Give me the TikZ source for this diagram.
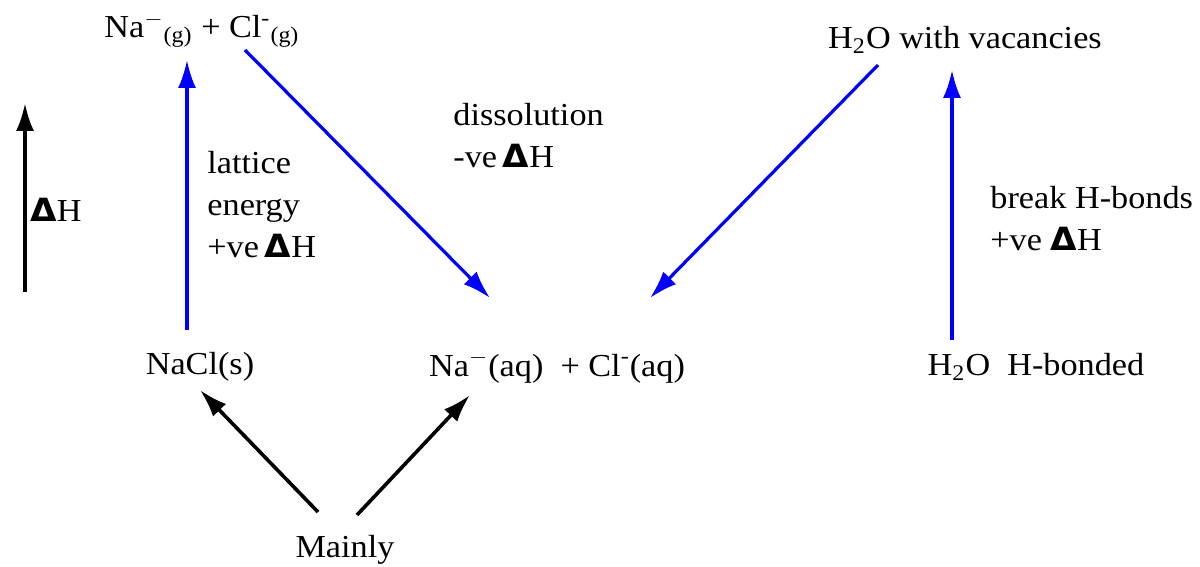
\documentclass[tikz,border=0pt]{standalone}
\usepackage{fontspec}
\setmainfont{Liberation Serif}
\newfontfamily\dvfont{DejaVu Sans}
\usetikzlibrary{arrows.meta}
\newcommand{\dH}{{\dvfont\bfseries Δ}H}
\begin{document}
\begin{tikzpicture}[x=0.5pt,y=-0.5pt,
  lbl/.style={inner sep=0pt, xscale=1.07, transform shape, font=\fontsize{16}{21}\selectfont},
  multi/.style={lbl, align=left, anchor=north west},
  barrow/.style={line width=1.8pt, -{Latex[length=14pt,width=9pt]}},
  blarrow/.style={barrow, line width=1.6pt, blue}]
\useasboundingbox (0,0) rectangle (1200,567);
% nodes
\node[lbl] (gas) at (202,30) {Na\textsuperscript{$-$}\textsubscript{(g)} + Cl\textsuperscript{-}\textsubscript{(g)}};
\node[lbl] (nacl) at (200,367) {NaCl(s)};
\node[lbl] (aq) at (557,367) {Na\textsuperscript{$-$}(aq)\enspace+ Cl\textsuperscript{-}(aq)};
\node[lbl] (vac) at (965,40) {H\textsubscript{2}O with vacancies};
\node[lbl] (hb) at (1036,367) {H\textsubscript{2}O\enspace H-bonded};
\node[lbl] (mainly) at (345,550) {Mainly};
\node[lbl, anchor=west] (dh) at (30,210) {\dH};
\node[multi] (latt) at (207,151) {lattice\\energy\\+ve\,\dH};
\node[multi] (diss) at (453,103) {dissolution\\-ve\,\dH};
\node[multi] (brk) at (990,186) {break H-bonds\\+ve \dH};
% arrow end points
\coordinate (k0) at (25,292); \coordinate (k1) at (25,103);
\coordinate (l0) at (187,330); \coordinate (l1) at (187,60);
\coordinate (d0) at (245,50); \coordinate (d1) at (490,298);
\coordinate (v0) at (878,65); \coordinate (v1) at (650,298);
\coordinate (h0) at (952,340); \coordinate (h1) at (952,70);
\coordinate (m0) at (318,512); \coordinate (m1) at (200,390);
\coordinate (n0) at (357,515); \coordinate (n1) at (470,395);
% connectors
\draw[barrow] (k0) -- (k1);
\draw[blarrow] (l0) -- (l1);
\draw[blarrow] (d0) -- (d1);
\draw[blarrow] (v0) -- (v1);
\draw[blarrow] (h0) -- (h1);
\draw[barrow] (m0) -- (m1);
\draw[barrow] (n0) -- (n1);
\end{tikzpicture}
\end{document}
